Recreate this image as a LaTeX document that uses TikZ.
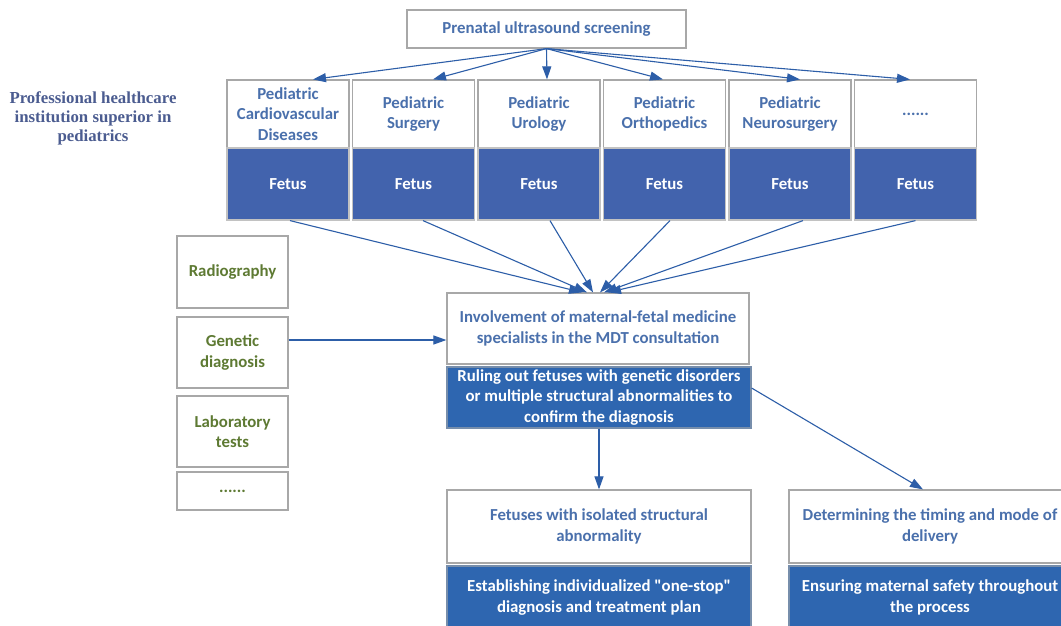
\documentclass[tikz,border=0pt]{standalone}
\usepackage{fontspec}
\setmainfont{Carlito}[Ligatures=TeXOff]
\newfontfamily\serifbold{Liberation Serif}
\usetikzlibrary{arrows.meta}
\definecolor{boxline}{HTML}{A8A8A8}
\definecolor{txtblue}{HTML}{4A70AC}
\definecolor{fetusblue}{HTML}{4263AD}
\definecolor{ruleblue}{HTML}{2E66B0}
\definecolor{arrblue}{HTML}{2D5EA8}
\definecolor{olive}{HTML}{5E7A33}
\definecolor{serifblue}{HTML}{4B5C90}
\begin{document}
\begin{tikzpicture}[x=1pt,y=-1pt,
  txt/.style={font=\fontsize{16.8}{20.5}\selectfont\bfseries, align=center, inner sep=0pt},
  wbox/.style={txt, draw=boxline, line width=1.2pt, fill=white, text=txtblue},
  gbox/.style={wbox, text=olive},
  bbox/.style={txt, draw=boxline!70!white, line width=1.2pt, fill=fetusblue, text=white},
  rbox/.style={txt, draw=boxline!60!ruleblue, line width=1.2pt, fill=ruleblue, text=white},
  arr/.style={draw=arrblue, line width=1.1pt, -{Triangle[length=13pt,width=9pt]}},
  col/.style={minimum width=122pt}
]
\useasboundingbox (0,0) rectangle (1061,625);
\fill[white] (0,0) rectangle (1061,625);

% top
\node[wbox, minimum width=279pt, minimum height=38pt] (ultra) at (546.5,29) {Prenatal ultrasound screening};

% side label
\node[font=\serifbold\fontsize{16.8}{19}\selectfont\bfseries, text=serifblue, align=center, inner sep=0pt] (inst) at (93,118) {Professional healthcare\\institution superior in\\pediatrics};

% columns
\node[wbox, col, minimum height=68pt] (c1t) at (288,114) {Pediatric\\Cardiovascular\\Diseases};
\node[wbox, col, minimum height=68pt] (c2t) at (413.5,114) {Pediatric\\Surgery};
\node[wbox, col, minimum height=68pt] (c3t) at (539,114) {Pediatric\\Urology};
\node[wbox, col, minimum height=68pt] (c4t) at (664.5,114) {Pediatric\\Orthopedics};
\node[wbox, col, minimum height=68pt] (c5t) at (790,114) {Pediatric\\Neurosurgery};
\node[wbox, col, minimum height=68pt] (c6t) at (915.5,114) {......};

\node[bbox, col, minimum height=72pt] (c1b) at (288,184) {Fetus};
\node[bbox, col, minimum height=72pt] (c2b) at (413.5,184) {Fetus};
\node[bbox, col, minimum height=72pt] (c3b) at (539,184) {Fetus};
\node[bbox, col, minimum height=72pt] (c4b) at (664.5,184) {Fetus};
\node[bbox, col, minimum height=72pt] (c5b) at (790,184) {Fetus};
\node[bbox, col, minimum height=72pt] (c6b) at (915.5,184) {Fetus};

% left boxes
\node[gbox, minimum width=111pt, minimum height=72pt] (radio) at (232.5,272) {Radiography};
\node[gbox, minimum width=111pt, minimum height=71pt] (gen) at (232.5,352.5) {Genetic\\diagnosis};
\node[gbox, minimum width=111pt, minimum height=71pt] (lab) at (232.5,431.5) {Laboratory\\tests};
\node[gbox, minimum width=111pt, minimum height=38pt] (ldots) at (232.5,491) {......};

% MDT
\node[wbox, minimum width=302pt, minimum height=71pt] (mdt) at (598,328.5) {Involvement of maternal-fetal medicine\\specialists in the MDT consultation};
\node[rbox, minimum width=304pt, minimum height=61pt] (rule) at (599,397.5) {Ruling out fetuses with genetic disorders\\or multiple structural abnormalities to\\confirm the diagnosis};

% bottom
\node[wbox, minimum width=304pt, minimum height=73pt] (iso) at (599,526.5) {Fetuses with isolated structural\\abnormality};
\node[rbox, minimum width=304pt, minimum height=63pt] (plan) at (599,597.5) {Establishing individualized "one-stop"\\diagnosis and treatment plan};
\node[wbox, minimum width=282pt, minimum height=73pt] (deliv) at (930,526.5) {Determining the timing and mode of\\delivery};
\node[rbox, minimum width=282pt, minimum height=63pt] (safe) at (930,597.5) {Ensuring maternal safety throughout\\the process};

% arrows from ultrasound
\draw[arr] (ultra.south) -- ([xshift=25pt]c1t.north);
\draw[arr] (ultra.south) -- ([xshift=19.5pt]c2t.north);
\draw[arr] (ultra.south) -- ([xshift=8pt]c3t.north);
\draw[arr] (ultra.south) -- ([xshift=-1.5pt]c4t.north);
\draw[arr] (ultra.south) -- ([xshift=10pt]c5t.north);
\draw[arr] (ultra.south) -- ([xshift=-5.5pt]c6t.north);

% arrows to MDT
\draw[arr] ([xshift=2pt]c1b.south) -- ([xshift=-16pt]mdt.north);
\draw[arr] ([xshift=9.5pt]c2b.south) -- ([xshift=-11pt]mdt.north);
\draw[arr] ([xshift=11pt]c3b.south) -- ([xshift=-5pt]mdt.north);
\draw[arr] ([xshift=5.5pt]c4b.south) -- ([xshift=2pt]mdt.north);
\draw[arr] ([xshift=13pt]c5b.south) -- ([xshift=6pt]mdt.north);
\draw[arr] (c6b.south) -- ([xshift=10pt]mdt.north);

% genetic arrow
\path ([yshift=12.5pt]gen.east) coordinate (gs);
\draw[arr] (gs) -- (gs -| mdt.west);

% down arrows
\draw[arr] (rule.south) -- (iso.north);
\draw[arr] ([yshift=9.5pt]rule.east) -- ([xshift=-7pt]deliv.north);
\end{tikzpicture}
\end{document}
